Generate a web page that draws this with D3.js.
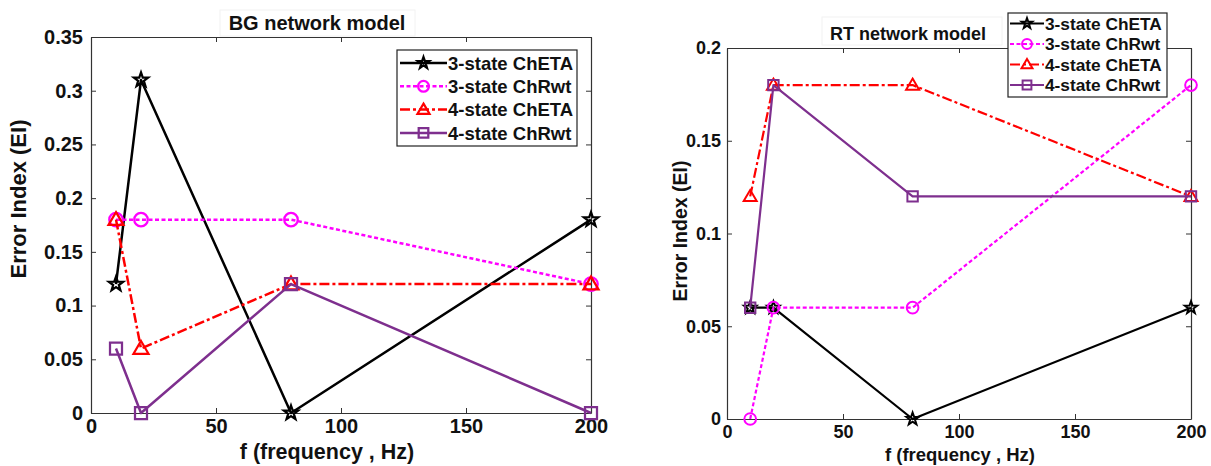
<!DOCTYPE html>
<html>
<head>
<meta charset="utf-8">
<script src="https://cdn.jsdelivr.net/npm/d3@7"></script>
<style>
  html, body { margin: 0; padding: 0; background: #fff; }
  svg { display: block; }
  text { font-family: "Liberation Sans", Arial, sans-serif; font-weight: bold; fill: #111; }
</style>
</head>
<body>
<svg id="fig" width="1211" height="466"></svg>
<script>
// Stimulation frequencies (Hz)
const freqs = [10, 20, 80, 200];

// Error index, BG network model
const bgChETA3 = [0.12, 0.31, 0, 0.18];
const bgChRwt3 = [0.18, 0.18, 0.18, 0.12];
const bgChETA4 = [0.18, 0.06, 0.12, 0.12];
const bgChRwt4 = [0.06, 0, 0.12, 0];

// Error index, RT network model
const rtChETA3 = [0.06, 0.06, 0, 0.06];
const rtChRwt3 = [0, 0.06, 0.06, 0.18];
const rtChETA4 = [0.12, 0.18, 0.18, 0.12];
const rtChRwt4 = [0.06, 0.18, 0.12, 0.12];

const seriesNames = ["3-state ChETA", "3-state ChRwt", "4-state ChETA", "4-state ChRwt"];

// Axis ticks
const xTicks = [0, 50, 100, 150, 200];
const xTickLabels = ["0", "50", "100", "150", "200"];
const bgYTicks = [0, 0.05, 0.1, 0.15, 0.2, 0.25, 0.3, 0.35];
const bgYTickLabels = ["0", "0.05", "0.1", "0.15", "0.2", "0.25", "0.3", "0.35"];
const rtYTicks = [0, 0.05, 0.1, 0.15, 0.2];
const rtYTickLabels = ["0", "0.05", "0.1", "0.15", "0.2"];

// Line / marker style for each series
const styles = [
  { color: "#000000", dash: null,         marker: "star" },
  { color: "#ff00ff", dash: "4,2.5",      marker: "circle" },
  { color: "#ff0000", dash: "10,3,3,3",   marker: "triangle" },
  { color: "#7e2f8e", dash: null,         marker: "square" }
];

function markerPath(type, r) {
  const p = d3.path();
  if (type === "star") {
    for (let i = 0; i < 10; i++) {
      const rad = i % 2 === 0 ? r : r * 0.4;
      const a = -Math.PI / 2 + i * Math.PI / 5;
      const x = rad * Math.cos(a), y = rad * Math.sin(a);
      if (i === 0) p.moveTo(x, y); else p.lineTo(x, y);
    }
    p.closePath();
  } else if (type === "circle") {
    p.arc(0, 0, r * 0.9, 0, 2 * Math.PI);
  } else if (type === "triangle") {
    p.moveTo(0, -r);
    p.lineTo(r, r * 0.7);
    p.lineTo(-r, r * 0.7);
    p.closePath();
  } else {
    const s = r * 0.8;
    p.rect(-s, -s, 2 * s, 2 * s);
  }
  return p.toString();
}

const svg = d3.select("#fig");

function drawPanel(cfg) {
  const x = d3.scaleLinear().domain([0, 200]).range([cfg.left, cfg.right]);
  const y = d3.scaleLinear().domain([0, cfg.yMax]).range([cfg.bottom, cfg.top]);
  const g = svg.append("g");

  // title with its white box
  g.append("rect")
    .attr("x", cfg.titleBox[0]).attr("y", cfg.titleBox[1])
    .attr("width", cfg.titleBox[2]).attr("height", cfg.titleBox[3])
    .attr("fill", "#fff").attr("stroke", "#f2f2f2");
  g.append("text")
    .attr("x", cfg.titleX).attr("y", cfg.titleY)
    .attr("text-anchor", "middle")
    .style("font-size", cfg.titleSize + "px")
    .text(cfg.title);

  // axes (inward ticks on all four sides)
  const tick = 5;
  const axes = [
    { a: d3.axisBottom(x).tickValues(xTicks).tickFormat((d, i) => xTickLabels[i]), t: `translate(0,${cfg.bottom})` },
    { a: d3.axisTop(x).tickValues(xTicks).tickFormat(""), t: `translate(0,${cfg.top})` },
    { a: d3.axisLeft(y).tickValues(cfg.yTicks).tickFormat((d, i) => cfg.yLabels[i]), t: `translate(${cfg.left},0)` },
    { a: d3.axisRight(y).tickValues(cfg.yTicks).tickFormat(""), t: `translate(${cfg.right},0)` }
  ];
  axes.forEach((ax, k) => {
    const ag = g.append("g").attr("transform", ax.t)
      .call(ax.a.tickSizeInner(-tick).tickSizeOuter(0).tickPadding(k === 0 ? cfg.xPad : cfg.yPad));
    ag.select(".domain").attr("stroke", "#333").attr("stroke-width", 1.2);
    ag.selectAll(".tick line").attr("stroke", "#333");
    ag.selectAll(".tick text")
      .attr("fill", "#111")
      .style("font-family", '"Liberation Sans", Arial, sans-serif')
      .style("font-weight", "bold")
      .style("font-size", cfg.tickSize + "px");
  });

  // axis labels
  g.append("text")
    .attr("x", cfg.xLabelX).attr("y", cfg.xLabelY)
    .attr("text-anchor", "middle")
    .style("font-size", cfg.xLabelSize + "px")
    .text("f (frequency , Hz)");
  g.append("text")
    .attr("transform", `translate(${cfg.yLabelX},${cfg.yLabelY}) rotate(-90)`)
    .attr("text-anchor", "middle")
    .style("font-size", cfg.yLabelSize + "px")
    .text("Error Index (EI)");

  // series
  const line = d3.line().x(d => x(d[0])).y(d => y(d[1]));
  cfg.series.forEach((vals, i) => {
    const st = styles[i];
    const pts = freqs.map((f, j) => [f, vals[j]]);
    g.append("path")
      .attr("d", line(pts))
      .attr("fill", "none")
      .attr("stroke", st.color)
      .attr("stroke-width", cfg.lw)
      .attr("stroke-dasharray", st.dash)
      .attr("stroke-linejoin", "round");
    g.selectAll(null).data(pts).enter().append("path")
      .attr("transform", d => `translate(${x(d[0])},${y(d[1])})`)
      .attr("d", markerPath(st.marker, cfg.mr))
      .attr("fill", "none")
      .attr("stroke", st.color)
      .attr("stroke-width", cfg.lw * 0.9)
      .attr("stroke-linejoin", "miter");
  });

  // legend
  const L = cfg.legend;
  g.append("rect")
    .attr("x", L.x).attr("y", L.y).attr("width", L.w).attr("height", L.h)
    .attr("fill", "#fff").attr("stroke", "#222").attr("stroke-width", 1.2);
  seriesNames.forEach((name, i) => {
    const st = styles[i];
    const cy = L.row0 + i * L.dy;
    g.append("line")
      .attr("x1", L.x + L.lx0).attr("x2", L.x + L.lx1)
      .attr("y1", cy).attr("y2", cy)
      .attr("stroke", st.color).attr("stroke-width", cfg.lw)
      .attr("stroke-dasharray", st.dash);
    g.append("path")
      .attr("transform", `translate(${L.x + (L.lx0 + L.lx1) / 2},${cy})`)
      .attr("d", markerPath(st.marker, L.mr))
      .attr("fill", "none").attr("stroke", st.color).attr("stroke-width", cfg.lw * 0.9);
    g.append("text")
      .attr("x", L.x + L.tx).attr("y", cy)
      .attr("dy", "0.36em")
      .style("font-size", L.size + "px")
      .text(name);
  });
}

drawPanel({
  left: 91, right: 591, top: 37, bottom: 413, yMax: 0.35,
  yTicks: bgYTicks, yLabels: bgYTickLabels,
  title: "BG network model", titleX: 317, titleY: 30, titleSize: 20,
  titleBox: [220, 10, 195, 26],
  tickSize: 20, xPad: 6, yPad: 8,
  xLabelSize: 21.5, xLabelX: 327, xLabelY: 459,
  yLabelSize: 22, yLabelX: 26, yLabelY: 199,
  lw: 2.5, mr: 7.5,
  series: [bgChETA3, bgChRwt3, bgChETA4, bgChRwt4],
  legend: { x: 397, y: 50, w: 180, h: 96, row0: 63, dy: 23.3, lx0: 3, lx1: 50, tx: 51, size: 18.5, mr: 6 }
});

drawPanel({
  left: 727, right: 1191, top: 48, bottom: 419, yMax: 0.2,
  yTicks: rtYTicks, yLabels: rtYTickLabels,
  title: "RT network model", titleX: 908, titleY: 40, titleSize: 18,
  titleBox: [822, 17, 180, 28],
  tickSize: 18, xPad: 6, yPad: 6,
  xLabelSize: 18.5, xLabelX: 960, xLabelY: 461,
  yLabelSize: 19.5, yLabelX: 687, yLabelY: 231,
  lw: 2.2, mr: 6.5,
  series: [rtChETA3, rtChRwt3, rtChETA4, rtChRwt4],
  legend: { x: 1008, y: 13, w: 159, h: 84, row0: 23.5, dy: 20.5, lx0: 2, lx1: 36, tx: 37, size: 17.3, mr: 5.5 }
});
</script>
</body>
</html>
